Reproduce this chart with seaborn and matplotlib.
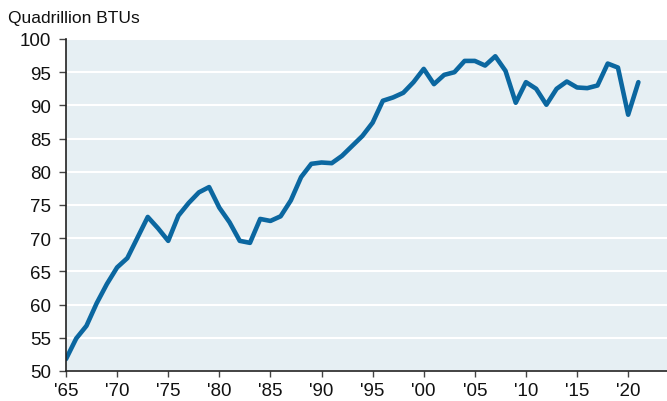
import pandas as pd
import numpy as np
import matplotlib.pyplot as plt
import seaborn as sns

years = list(range(1965, 2022))
btus = [51.8, 54.9, 56.8, 60.2, 63.1, 65.6, 67.0, 70.1, 73.2, 71.5,
        69.6, 73.4, 75.3, 76.9, 77.7, 74.6, 72.4, 69.6, 69.3, 72.9,
        72.6, 73.3, 75.7, 79.2, 81.2, 81.4, 81.3, 82.4, 83.9, 85.4,
        87.4, 90.7, 91.2, 91.9, 93.5, 95.5, 93.2, 94.6, 95.0, 96.7,
        96.7, 96.0, 97.4, 95.2, 90.4, 93.5, 92.5, 90.1, 92.5, 93.6,
        92.7, 92.6, 93.0, 96.3, 95.7, 88.6, 93.5]
tick_years = list(range(1965, 2021, 5))
tick_labels = ["'" + str(y)[2:] for y in tick_years]
y_ticks = list(range(50, 101, 5))

df = pd.DataFrame({'Year': years, 'Quadrillion BTUs': btus})

sns.set_theme(style='white')
plt.rcParams['font.family'] = ['Liberation Sans', 'DejaVu Sans']

fig = plt.figure(figsize=(6.67, 4.02), dpi=100)
ax = fig.add_axes([66 / 667, 1 - 372 / 402, (667 - 66) / 667, (372 - 40) / 402])
ax.set_facecolor('#e6eff3')

sns.lineplot(data=df, x='Year', y='Quadrillion BTUs', ax=ax, color='#0b67a0', linewidth=3.3)

ax.set_xlim(1965, 2023.8)
ax.set_ylim(50, 100)
ax.set_xticks(tick_years)
ax.set_xticklabels(tick_labels)
ax.set_yticks(y_ticks)
ax.yaxis.grid(True, color='white', linewidth=1.5)
ax.set_axisbelow(True)
ax.set_xlabel(None)
ax.set_ylabel(None)
for s in ['top', 'right']:
    ax.spines[s].set_visible(False)
for s in ['left', 'bottom']:
    ax.spines[s].set_color('#222222')
    ax.spines[s].set_linewidth(1.2)
ax.tick_params(axis='x', direction='out', length=4, width=1, color='#444444',
               labelsize=13.5, labelcolor='#111111', pad=4, bottom=True)
ax.tick_params(axis='y', direction='out', length=5, width=1, color='#444444',
               labelsize=13.5, labelcolor='#111111', pad=6, left=True)

fig.text(8 / 667, 1 - 18 / 402, 'Quadrillion BTUs', fontsize=12.5, color='#111111',
         ha='left', va='center')

fig.savefig('out.png', dpi=100)
